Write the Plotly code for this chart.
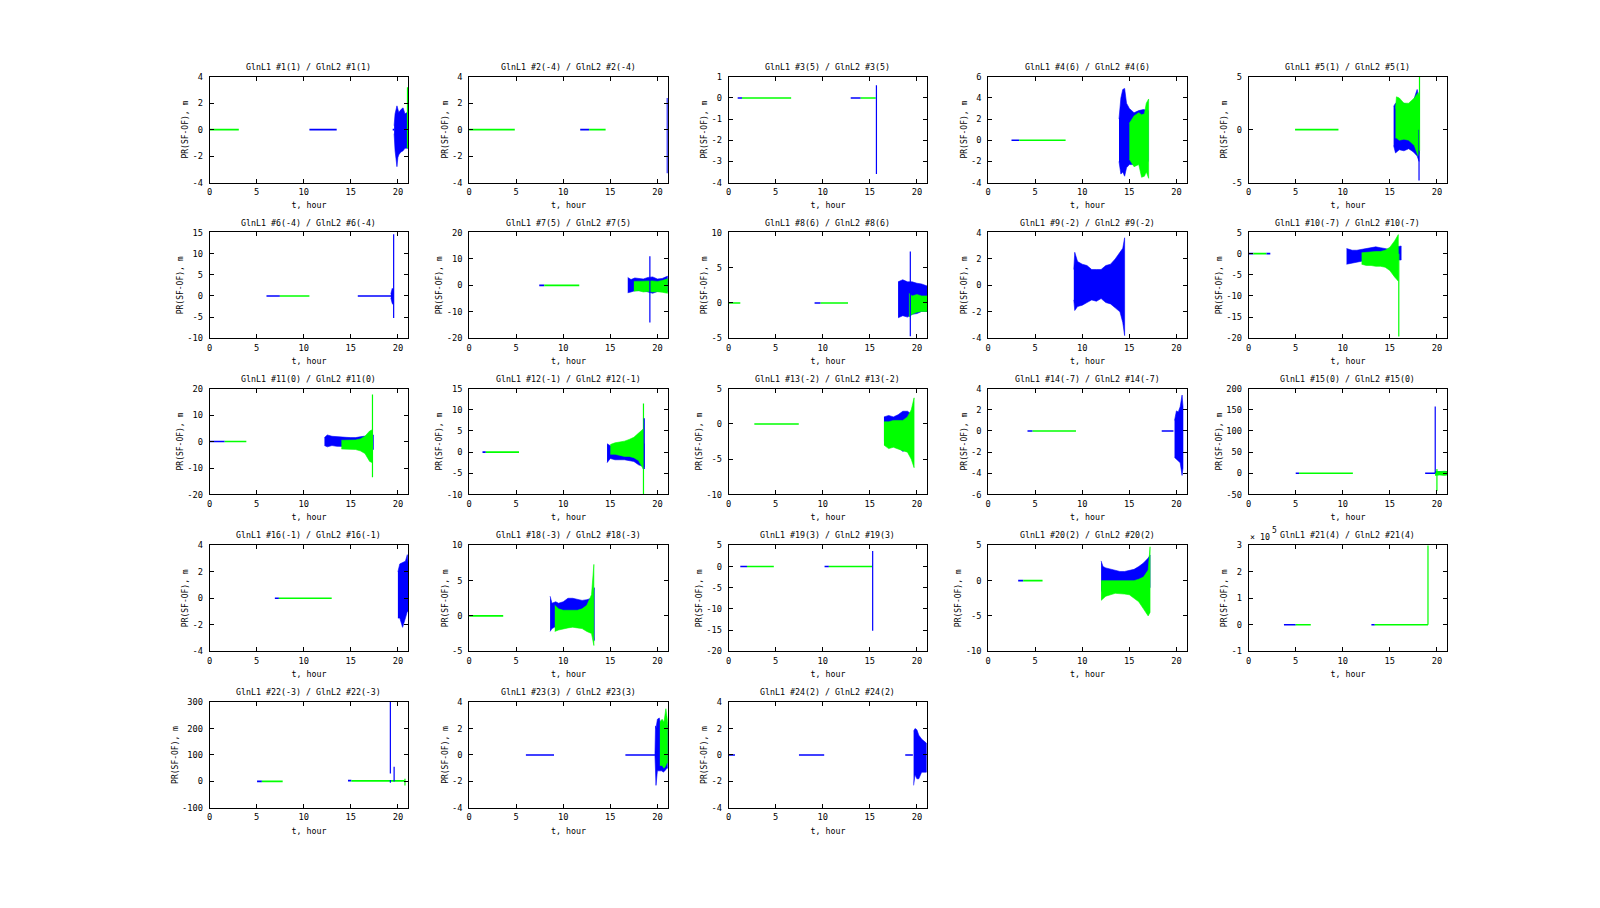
import plotly.graph_objects as go

BLUE = "#0000ff"
GREEN = "#00ff00"
FONT = "DejaVu Sans Mono"

# ---------------- panel meta data ----------------
TITLES = [
    "GlnL1 #1(1) / GlnL2 #1(1)", "GlnL1 #2(-4) / GlnL2 #2(-4)", "GlnL1 #3(5) / GlnL2 #3(5)",
    "GlnL1 #4(6) / GlnL2 #4(6)", "GlnL1 #5(1) / GlnL2 #5(1)", "GlnL1 #6(-4) / GlnL2 #6(-4)",
    "GlnL1 #7(5) / GlnL2 #7(5)", "GlnL1 #8(6) / GlnL2 #8(6)", "GlnL1 #9(-2) / GlnL2 #9(-2)",
    "GlnL1 #10(-7) / GlnL2 #10(-7)", "GlnL1 #11(0) / GlnL2 #11(0)", "GlnL1 #12(-1) / GlnL2 #12(-1)",
    "GlnL1 #13(-2) / GlnL2 #13(-2)", "GlnL1 #14(-7) / GlnL2 #14(-7)", "GlnL1 #15(0) / GlnL2 #15(0)",
    "GlnL1 #16(-1) / GlnL2 #16(-1)", "GlnL1 #18(-3) / GlnL2 #18(-3)", "GlnL1 #19(3) / GlnL2 #19(3)",
    "GlnL1 #20(2) / GlnL2 #20(2)", "GlnL1 #21(4) / GlnL2 #21(4)", "GlnL1 #22(-3) / GlnL2 #22(-3)",
    "GlnL1 #23(3) / GlnL2 #23(3)", "GlnL1 #24(2) / GlnL2 #24(2)",
]
Y_MIN = [-4, -4, -4, -4, -5, -10, -20, -5, -4, -20, -20, -10, -10, -6, -50, -4, -5, -20, -10, -1e5, -100, -4, -4]
Y_MAX = [4, 4, 1, 6, 5, 15, 20, 10, 4, 5, 20, 15, 5, 4, 200, 4, 10, 5, 5, 3e5, 300, 4, 4]
Y_STEP = [2, 2, 1, 2, 5, 5, 10, 5, 2, 5, 10, 5, 5, 2, 50, 2, 5, 5, 5, 1e5, 100, 2, 2]
Y_LABEL_SCALE = [1] * 19 + [1e5] + [1] * 3
X_TICKS = [0, 5, 10, 15, 20]
X_MAX = 21.1
X_LABEL = "t, hour"
Y_LABEL = "PR(SF-OF), m"

# ---------------- flat (zero) segments: (panel, colour, t0, t1, value) ----------------
FLAT_SEGMENTS = [
    (0, GREEN, 0.0, 3.1, 0), (0, BLUE, 10.6, 13.5, 0), (0, BLUE, 19.45, 19.6, 0),
    (1, GREEN, 0.0, 4.85, 0), (1, BLUE, 11.8, 12.75, 0), (1, GREEN, 12.75, 14.5, 0),
    (2, BLUE, 0.96, 1.42, 0), (2, GREEN, 1.42, 6.64, 0), (2, BLUE, 12.97, 14.03, 0), (2, GREEN, 14.03, 15.63, 0),
    (3, BLUE, 2.48, 3.3, 0), (3, GREEN, 3.3, 8.23, 0),
    (4, GREEN, 4.93, 9.54, 0),
    (5, BLUE, 6.04, 7.46, 0), (5, GREEN, 7.46, 10.6, 0), (5, BLUE, 15.74, 19.3, 0),
    (6, BLUE, 7.45, 7.98, 0), (6, GREEN, 7.98, 11.7, 0),
    (7, GREEN, 0.0, 1.24, 0), (7, BLUE, 9.13, 9.77, 0), (7, GREEN, 9.77, 12.68, 0),
    (9, BLUE, 0.0, 0.5, 0), (9, GREEN, 0.5, 1.9, 0), (9, BLUE, 1.9, 2.3, 0),
    (10, BLUE, 0.0, 1.6, 0), (10, GREEN, 1.6, 3.9, 0),
    (11, BLUE, 1.42, 1.77, 0), (11, GREEN, 1.77, 5.3, 0),
    (12, GREEN, 2.73, 7.45, 0),
    (13, BLUE, 4.18, 4.72, 0), (13, GREEN, 4.72, 9.33, 0), (13, BLUE, 18.44, 19.68, 0),
    (14, BLUE, 5.0, 5.36, 0), (14, GREEN, 5.36, 11.07, 0), (14, BLUE, 18.75, 19.8, 0),
    (15, BLUE, 6.93, 7.36, 0), (15, GREEN, 7.36, 12.97, 0),
    (16, GREEN, 0.0, 3.62, 0),
    (17, BLUE, 1.24, 1.95, 0), (17, GREEN, 1.95, 4.8, 0), (17, BLUE, 10.19, 10.65, 0), (17, GREEN, 10.65, 15.27, 0),
    (18, BLUE, 3.19, 3.72, 0), (18, GREEN, 3.72, 5.78, 0),
    (19, BLUE, 3.75, 5.0, 0), (19, GREEN, 5.0, 6.6, 0), (19, BLUE, 13.04, 13.4, 0), (19, GREEN, 13.4, 19.05, 0),
    (20, BLUE, 5.04, 5.55, 0), (20, GREEN, 5.55, 7.76, 0), (20, BLUE, 14.7, 15.06, 3), (20, GREEN, 15.06, 20.7, 2),
    (21, BLUE, 6.03, 9.02, 0), (21, BLUE, 16.6, 19.74, 0),
    (22, BLUE, 0.0, 0.67, 0), (22, BLUE, 7.47, 10.15, 0), (22, BLUE, 18.76, 19.57, 0),
]

# ---------------- noisy bands: envelope (t, low, high) ----------------
BAND_01_BLUE = ([19.6, 19.7, 19.9, 20.0, 20.1, 20.3, 20.55, 20.75, 21.0, 21.1],
                [-0.3, -1.6, -2.8, -2.1, -1.9, -1.7, -1.6, -1.4, -1.4, -1.4],
                [0.3, 1.2, 1.8, 1.4, 1.3, 1.5, 1.65, 1.2, 1.3, 1.2])
BAND_04_BLUE = ([13.9, 14.1, 14.3, 14.5, 14.7, 15.0, 15.5, 16.0, 16.5, 17.0],
                [-2.0, -3.2, -3.0, -3.4, -2.6, -2.3, -2.3, -2.2, -2.0, -2.0],
                [2.0, 4.0, 4.8, 4.9, 3.5, 3.0, 2.6, 2.8, 2.9, 2.8])
BAND_04_GREEN = ([15.0, 15.5, 16.0, 16.3, 16.6, 16.8, 17.05],
                 [-1.8, -2.5, -2.3, -3.5, -3.4, -3.0, -3.6],
                 [1.6, 2.3, 2.6, 2.4, 2.5, 3.5, 3.9])
BAND_05_BLUE = ([15.4, 15.6, 16.0, 16.5, 17.0, 17.5, 17.9, 18.1],
                [-1.5, -2.2, -1.9, -2.0, -1.8, -2.1, -2.5, -3.0],
                [2.2, 2.5, 2.4, 2.5, 2.3, 2.7, 3.8, 3.0])
BAND_05_GREEN = ([15.6, 15.7, 16.0, 16.5, 17.0, 17.6, 18.0, 18.15],
                 [-0.8, -0.8, -1.0, -0.9, -1.0, -1.5, -2.5, -2.2],
                 [2.0, 3.1, 3.0, 2.5, 2.5, 3.0, 3.5, 3.0])
BAND_06_BLUE = ([19.25, 19.4, 19.5], [-0.5, -1.8, -2.0], [0.5, 1.8, 1.5])
BAND_07_BLUE = ([16.85, 17.2, 17.6, 18.0, 18.5, 19.0, 19.5, 20.0, 20.5, 21.1],
                [-2.8, -2.5, -2.0, -2.0, -2.0, -2.5, -3.0, -2.3, -2.0, -2.5],
                [3.0, 2.2, 2.8, 2.5, 2.4, 3.0, 3.2, 2.4, 2.6, 3.5])
BAND_07_GREEN = ([17.5, 18.0, 18.5, 19.0, 19.5, 20.0, 20.5, 21.1],
                 [-2.2, -2.0, -2.5, -2.3, -2.5, -2.4, -2.6, -3.0],
                 [1.5, 1.6, 1.5, 1.8, 1.7, 1.5, 1.8, 2.5])
BAND_08_BLUE = ([18.0, 18.5, 19.0, 19.5, 20.0, 20.5, 21.1],
                [-2.1, -1.8, -2.0, -1.6, -1.5, -1.2, -1.2],
                [3.0, 3.3, 3.0, 3.0, 2.8, 2.7, 2.4])
BAND_08_GREEN = ([19.15, 19.5, 20.0, 20.5, 21.1],
                 [-2.0, -1.6, -1.3, -1.2, -1.2],
                 [1.4, 1.0, 1.2, 1.0, 1.0])
BAND_09_BLUE = ([9.1, 9.2, 9.5, 10.0, 10.5, 11.0, 11.5, 12.0, 12.5, 13.0, 13.5, 14.0, 14.3, 14.5],
                [-1.1, -1.9, -1.6, -1.5, -1.3, -1.1, -1.2, -1.0, -1.3, -1.4, -1.7, -2.0, -2.8, -3.8],
                [1.2, 2.5, 1.8, 1.6, 1.5, 1.2, 1.2, 1.2, 1.5, 1.6, 2.0, 2.5, 2.8, 3.6])
BAND_10_BLUE = ([10.4, 11.0, 11.5, 12.0, 12.5, 13.0, 13.5, 14.0, 14.5, 15.0, 15.5, 16.0, 16.2],
                [-2.5, -2.2, -2.0, -1.8, -1.5, -1.5, -1.5, -1.5, -1.5, -1.5, -1.5, -1.5, -1.5],
                [1.2, 0.8, 0.8, 1.0, 1.2, 1.5, 1.6, 1.4, 1.2, 1.0, 1.5, 1.8, 1.8])
BAND_10_GREEN = ([12.0, 12.5, 13.0, 13.5, 14.0, 14.5, 15.0, 15.5, 15.9],
                 [-2.5, -2.8, -2.8, -3.0, -3.0, -3.2, -4.0, -5.5, -6.5],
                 [0.2, 0.3, 0.5, 0.5, 0.5, 0.8, 1.5, 3.0, 4.5])
BAND_11_BLUE = ([12.2, 12.5, 13.0, 13.5, 14.0, 14.5, 15.0, 15.5, 16.0, 16.5, 17.4],
                [-1.5, -2.0, -1.5, -1.8, -1.8, -2.0, -2.0, -2.0, -2.0, -2.0, -3.0],
                [1.5, 2.5, 2.0, 1.8, 1.8, 1.6, 1.5, 1.5, 1.8, 2.0, 2.5])
BAND_11_GREEN = ([14.0, 14.5, 15.0, 15.5, 16.0, 16.5, 17.0, 17.3],
                 [-2.8, -3.0, -3.0, -3.0, -3.5, -4.5, -7.5, -8.0],
                 [0.5, 0.5, 0.5, 0.6, 1.0, 2.0, 4.0, 4.5])
BAND_12_BLUE = ([14.65, 15.0, 15.5, 16.0, 16.5, 17.0, 17.5, 18.0, 18.6],
                [-2.5, -1.5, -1.8, -1.8, -1.8, -2.0, -2.2, -3.0, -3.5],
                [2.0, 1.5, 1.5, 1.5, 1.5, 1.5, 1.5, 2.0, 2.0])
BAND_12_GREEN = ([15.0, 15.5, 16.0, 16.5, 17.0, 17.5, 18.0, 18.5],
                 [-0.5, -0.5, -0.8, -1.0, -1.0, -1.3, -2.0, -4.0],
                 [1.8, 2.2, 2.4, 2.6, 3.0, 3.5, 4.5, 5.5])
BAND_13_BLUE = ([16.5, 17.0, 17.5, 18.0, 18.5, 19.0, 19.3],
                [-2.5, -3.0, -3.0, -3.2, -3.9, -3.5, -3.5],
                [1.0, 1.2, 1.0, 1.3, 1.8, 1.8, 1.5])
BAND_13_GREEN = ([16.5, 17.0, 17.5, 18.0, 18.5, 19.0, 19.4, 19.7],
                 [-3.0, -3.5, -3.3, -3.5, -3.8, -4.0, -5.0, -6.2],
                 [0.3, 0.3, 0.5, 0.5, 0.5, 1.0, 2.0, 3.7])
BAND_14_BLUE = ([19.8, 20.0, 20.2, 20.4, 20.6, 20.7],
                [-2.5, -2.7, -2.8, -3.0, -4.2, -3.5],
                [1.0, 1.9, 1.8, 2.3, 3.4, 2.3])
BAND_15_BLUE = ([19.9, 20.5, 21.1], [-3.0, -3.0, -3.0], [4.0, 4.0, 4.0])
BAND_15_GREEN = ([19.8, 20.3, 20.8, 21.1], [-5.0, -4.0, -5.0, -4.0], [5.0, 4.0, 5.0, 4.0])
BAND_16_BLUE = ([20.0, 20.2, 20.5, 20.8, 21.0, 21.1],
                [-1.5, -1.5, -2.2, -1.5, -1.0, -1.0],
                [2.0, 2.6, 2.7, 2.8, 3.3, 2.5])
BAND_18_BLUE = ([8.6, 8.8, 9.2, 9.5, 10.0, 10.5, 11.0, 11.5, 12.0, 12.5, 13.0, 13.3],
                [-2.2, -1.8, -1.5, -1.2, -1.0, -1.0, -1.0, -1.1, -1.2, -1.3, -1.5, -3.5],
                [2.8, 1.8, 2.0, 1.8, 2.0, 2.5, 2.5, 2.3, 2.2, 2.3, 2.5, 4.0])
BAND_18_GREEN = ([9.1, 9.5, 10.0, 10.5, 11.0, 11.5, 12.0, 12.5, 13.0, 13.25],
                 [-2.2, -2.0, -1.8, -1.7, -1.6, -1.7, -1.8, -2.2, -2.5, -4.2],
                 [1.5, 1.0, 0.8, 0.8, 0.8, 0.8, 1.0, 1.5, 3.0, 7.3])
BAND_20_BLUE = ([12.0, 12.2, 12.5, 13.0, 13.5, 14.0, 14.5, 15.0, 15.5, 16.0, 16.5, 17.0, 17.2],
                [-1.5, -1.5, -1.0, -1.0, -1.0, -1.0, -1.0, -1.0, -1.0, -1.0, -1.0, -1.0, -1.0],
                [2.8, 2.0, 1.8, 1.6, 1.5, 1.3, 1.3, 1.5, 1.6, 2.0, 2.5, 3.2, 3.6])
BAND_20_GREEN = ([12.0, 12.5, 13.0, 13.5, 14.0, 14.5, 15.0, 15.5, 16.0, 16.5, 17.0, 17.2],
                 [-2.8, -2.2, -2.0, -1.8, -1.8, -1.9, -2.0, -2.5, -3.0, -4.0, -5.0, -4.5],
                 [0.0, 0.0, 0.0, 0.0, 0.0, 0.0, 0.0, 0.0, 0.2, 0.5, 1.5, 4.8])
BAND_23_BLUE = ([19.74, 19.8, 19.85, 20.0, 20.2, 20.3, 20.5, 20.6, 20.8, 21.0, 21.1],
                [0.0, -1.0, -2.3, -1.2, -1.2, -1.2, -1.2, -1.3, -1.2, -1.0, -1.0],
                [0.0, 2.2, 2.0, 2.7, 2.8, 2.5, 2.3, 2.2, 2.0, 2.5, 2.0])
BAND_23_GREEN = ([20.26, 20.5, 20.7, 20.9, 21.0, 21.1],
                 [-0.8, -0.8, -1.0, -0.8, -0.6, -0.6],
                 [2.5, 2.7, 2.5, 3.5, 3.0, 2.5])
BAND_24_BLUE = ([19.65, 19.8, 20.0, 20.2, 20.5, 20.8, 21.0],
                [-2.3, -1.5, -1.8, -1.8, -1.3, -1.3, -1.3],
                [1.8, 2.0, 1.9, 1.5, 1.2, 1.0, 0.9])

BANDS = [
    (0, BLUE, BAND_01_BLUE), (3, BLUE, BAND_04_BLUE), (3, GREEN, BAND_04_GREEN),
    (4, BLUE, BAND_05_BLUE), (4, GREEN, BAND_05_GREEN), (5, BLUE, BAND_06_BLUE),
    (6, BLUE, BAND_07_BLUE), (6, GREEN, BAND_07_GREEN), (7, BLUE, BAND_08_BLUE), (7, GREEN, BAND_08_GREEN),
    (8, BLUE, BAND_09_BLUE), (9, BLUE, BAND_10_BLUE), (9, GREEN, BAND_10_GREEN),
    (10, BLUE, BAND_11_BLUE), (10, GREEN, BAND_11_GREEN), (11, BLUE, BAND_12_BLUE), (11, GREEN, BAND_12_GREEN),
    (12, BLUE, BAND_13_BLUE), (12, GREEN, BAND_13_GREEN), (13, BLUE, BAND_14_BLUE),
    (14, BLUE, BAND_15_BLUE), (14, GREEN, BAND_15_GREEN), (15, BLUE, BAND_16_BLUE),
    (16, BLUE, BAND_18_BLUE), (16, GREEN, BAND_18_GREEN), (18, BLUE, BAND_20_BLUE), (18, GREEN, BAND_20_GREEN),
    (21, BLUE, BAND_23_BLUE), (21, GREEN, BAND_23_GREEN), (22, BLUE, BAND_24_BLUE),
]

# ---------------- single spikes: (panel, colour, t, y_low, y_high) ----------------
SPIKES = [
    (0, GREEN, 21.02, -1.4, 3.2), (1, BLUE, 21.05, -3.3, 2.4), (2, BLUE, 15.7, -3.6, 0.6),
    (4, BLUE, 18.1, -4.8, 0.0), (4, GREEN, 18.15, -2.0, 5.0), (5, BLUE, 19.55, -5.2, 14.6),
    (6, BLUE, 19.2, -14.0, 11.0), (7, BLUE, 19.3, -4.7, 7.3), (9, GREEN, 15.95, -19.6, 0.0),
    (10, GREEN, 17.3, -13.5, 17.8), (11, GREEN, 18.52, -10.0, 11.5), (11, BLUE, 18.6, -4.0, 8.0),
    (14, BLUE, 19.82, 0.0, 158.0), (14, GREEN, 20.0, -42.0, 10.0), (17, BLUE, 15.3, -15.2, 3.7),
    (19, GREEN, 19.05, 0.0, 3.5e5), (20, BLUE, 19.2, 30.0, 310.0), (20, BLUE, 19.2, -5.0, 5.0),
    (20, BLUE, 19.6, 0.0, 55.0), (20, GREEN, 20.75, -15.0, 10.0),
]

# ---------------- layout geometry (page pixels; page has an 8px body margin) ----------------
BODY = 8
W, H = 1584, 880
COL_LEFT = [207, 467, 727, 987, 1248]
ROW_TOP = [72.5, 230, 388, 546.5, 705]
PW, PH = 199, 107

fig = go.Figure()
layout = dict(width=W, height=H, margin=dict(l=0, r=0, t=0, b=0),
              paper_bgcolor="white", plot_bgcolor="white", showlegend=False,
              font=dict(family=FONT, size=9, color="black"))
annotations = []


def axid(p):
    return ("x" if p == 0 else f"x{p+1}"), ("y" if p == 0 else f"y{p+1}")


def fmt(v):
    if abs(v - round(v)) < 1e-9:
        return str(int(round(v)))
    return str(v)


def px_x(x):
    return (x - BODY) / W


def px_y(y):
    return 1 - (y - BODY) / H


for p, title in enumerate(TITLES):
    r, c = divmod(p, 5)
    x0, x1 = px_x(COL_LEFT[c]), px_x(COL_LEFT[c] + PW)
    y1, y0 = px_y(ROW_TOP[r]), px_y(ROW_TOP[r] + PH)
    xa, ya = axid(p)
    xkey = "xaxis" if p == 0 else f"xaxis{p+1}"
    ykey = "yaxis" if p == 0 else f"yaxis{p+1}"
    n = int(round((Y_MAX[p] - Y_MIN[p]) / Y_STEP[p]))
    yt = [Y_MIN[p] + i * Y_STEP[p] for i in range(n + 1)]
    common = dict(showline=True, linecolor="black", linewidth=1, mirror="ticks",
                  ticks="inside", ticklen=4, tickcolor="black", tickwidth=1,
                  showgrid=False, zeroline=False, fixedrange=True, automargin=True,
                  tickfont=dict(family=FONT, size=8.7))
    layout[xkey] = dict(domain=[x0, x1], anchor=ya, range=[0, X_MAX],
                        tickmode="array", tickvals=X_TICKS, ticktext=[str(v) for v in X_TICKS],
                        title=dict(text=X_LABEL, font=dict(family=FONT, size=8.3), standoff=6),
                        ticklabelstandoff=1, **common)
    layout[ykey] = dict(domain=[y0, y1], anchor=xa, range=[Y_MIN[p], Y_MAX[p]],
                        tickmode="array", tickvals=yt, ticktext=[fmt(v / Y_LABEL_SCALE[p]) for v in yt],
                        title=dict(text=Y_LABEL, font=dict(family=FONT, size=8), standoff=2),
                        ticklabelstandoff=4, **common)
    annotations.append(dict(text=title, x=(x0 + x1) / 2, y=y1 + 3 / H, xref="paper", yref="paper",
                            xanchor="center", yanchor="bottom", showarrow=False,
                            font=dict(family=FONT, size=8.3)))
    if Y_LABEL_SCALE[p] != 1:
        annotations.append(dict(text="× 10", x=x0 - 1 / W, y=y1 + 1 / H, xref="paper", yref="paper",
                                xanchor="left", yanchor="bottom", showarrow=False,
                                font=dict(family=FONT, size=8.3)))
        annotations.append(dict(text="5", x=x0 + 21 / W, y=y1 + 8 / H, xref="paper", yref="paper",
                                xanchor="left", yanchor="bottom", showarrow=False,
                                font=dict(family=FONT, size=8)))

# flats
for (p, col, t0, t1, v) in FLAT_SEGMENTS:
    xa, ya = axid(p)
    fig.add_trace(go.Scatter(x=[t0, t1], y=[v, v], mode="lines", xaxis=xa, yaxis=ya,
                             line=dict(color=col, width=1.6), hoverinfo="skip"))

# bands
for (p, col, (t, lo, hi)) in BANDS:
    xa, ya = axid(p)
    fig.add_trace(go.Scatter(x=list(t) + list(t)[::-1], y=list(hi) + list(lo)[::-1],
                             mode="lines", fill="toself", fillcolor=col, xaxis=xa, yaxis=ya,
                             line=dict(color=col, width=0.6), hoverinfo="skip"))

# spikes
for (p, col, t, a, b) in SPIKES:
    xa, ya = axid(p)
    fig.add_trace(go.Scatter(x=[t, t], y=[a, b], mode="lines", xaxis=xa, yaxis=ya,
                             line=dict(color=col, width=1.2), hoverinfo="skip"))

layout["annotations"] = annotations
fig.update_layout(**layout)
fig.write_html("out.html")
